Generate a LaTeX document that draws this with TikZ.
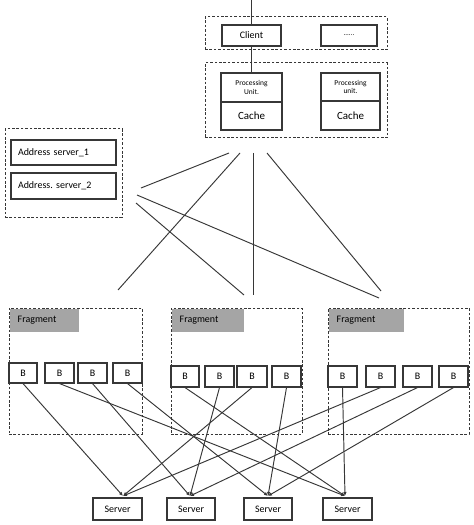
\documentclass[tikz,border=0pt]{standalone}
\usepackage{fontspec}
\setmainfont{Carlito}
\usetikzlibrary{arrows.meta,calc}
\definecolor{lin}{RGB}{55,55,55}
\definecolor{hdr}{RGB}{165,165,165}
\newcommand\bx[7][]{\node[box,minimum width={(#4-#2)*1bp},minimum height={(#5-#3)*1bp},#1] (#6) at ({(#2+#4)/2},{(#3+#5)/2}) {#7};}
\newcommand\dc[5]{\node[cont,minimum width={(#4-#2)*1bp},minimum height={(#5-#3)*1bp}] (#1) at ({(#2+#4)/2},{(#3+#5)/2}) {};}
\frenchspacing
\begin{document}
\begin{tikzpicture}[x=1bp,y=-1bp,
  box/.style={draw=lin, line width=1.1bp, inner sep=0pt, align=center, font=\fontsize{10}{11}\selectfont},
  cont/.style={draw=lin, dash pattern=on 2.6bp off 1.8bp, line width=1bp, inner sep=0pt},
  conn/.style={draw=lin, line width=0.95bp},
  arr/.style={conn, -{Latex[length=4bp,width=3.5bp]}},
  small/.style={font=\fontsize{7.5}{8.5}\selectfont},
  big/.style={font=\fontsize{11}{12}\selectfont},
  lefttext/.style={align=left, inner xsep=7bp, text width={(#1-14)*1bp}},
  hdrbox/.style={fill=hdr, draw=none, inner sep=0pt, align=left, font=\fontsize{10}{11}\selectfont},
]
\useasboundingbox (0,0) rectangle (474,525);
% top client area
\dc{c1}{205}{17}{387}{50}
\dc{c2}{205}{63}{387}{138}
\bx{222}{25}{281}{46}{client}{Client}
\bx{321}{25}{377}{46}{dots}{\fontsize{7}{8}\selectfont ......}
\bx[small]{221}{73}{282}{102}{pu1}{Processing\\Unit.}
\bx[big]{221}{102}{282}{130}{ca1}{Cache}
\bx[small]{321}{73}{380}{101}{pu2}{Processing\\unit.}
\bx[big]{321}{101}{380}{130}{ca2}{Cache}
\coordinate (top) at (251.5,0);
\draw[conn] (top) -- (client.north);
\draw[conn] (client.south) -- (pu1.north);
% address servers
\dc{c3}{5}{129}{122}{217}
\bx[lefttext=105]{11}{140}{116}{165}{ad1}{Address server\_1}
\bx[lefttext=105]{11}{173}{116}{199}{ad2}{Address. server\_2}
% free lines
\coordinate (p1a) at (141,188); \coordinate (p1b) at (229,153);
\coordinate (p2a) at (240,153); \coordinate (p2b) at (118,290);
\coordinate (p3a) at (253,153); \coordinate (p3b) at (253,295);
\coordinate (p4a) at (267,153); \coordinate (p4b) at (381,291);
\coordinate (p5a) at (137,195); \coordinate (p5b) at (379,298);
\coordinate (p6a) at (136,203); \coordinate (p6b) at (244,295);
\draw[conn] (p1a) -- (p1b);
\draw[conn] (p2a) -- (p2b);
\draw[conn] (p3a) -- (p3b);
\draw[conn] (p4a) -- (p4b);
\draw[conn] (p5a) -- (p5b);
\draw[conn] (p6a) -- (p6b);
% fragments
\dc{f1}{9}{308}{142}{434}
\dc{f2}{171}{308}{302}{434}
\dc{f3}{328}{308}{469}{434}
\node[hdrbox, anchor=north west, minimum width=69bp, minimum height=23bp, inner xsep=8bp, text width=53bp] (h1) at (9.5,308.5) {Fragment};
\node[hdrbox, anchor=north west, minimum width=72bp, minimum height=23bp, inner xsep=8bp, text width=56bp] (h2) at (171.5,308.5) {Fragment};
\node[hdrbox, anchor=north west, minimum width=75bp, minimum height=23bp, inner xsep=8bp, text width=59bp] (h3) at (328.5,308.5) {Fragment};
\bx{9}{363}{37}{383}{b11}{B}
\bx{45}{363}{74}{383}{b12}{B}
\bx{78}{363}{107}{383}{b13}{B}
\bx{113}{363}{142}{383}{b14}{B}
\bx{171}{366}{199}{387}{b21}{B}
\bx{205}{366}{234}{387}{b22}{B}
\bx{237}{366}{267}{387}{b23}{B}
\bx{272}{366}{301}{387}{b24}{B}
\bx{328}{366}{357}{387}{b31}{B}
\bx{366}{366}{395}{387}{b32}{B}
\bx{403}{366}{432}{387}{b33}{B}
\bx{439}{366}{468}{387}{b34}{B}
% servers
\bx{93}{498}{142}{520}{s1}{Server}
\bx{167}{498}{215}{520}{s2}{Server}
\bx{244}{498}{292}{520}{s3}{Server}
\bx{323}{498}{372}{520}{s4}{Server}
\coordinate (s1in) at (123,496);
\coordinate (s2in) at (190,496);
\coordinate (s3in) at (268,496);
\coordinate (s4in) at (345,496);
\draw[arr] (b11.south) -- (s1in);
\draw[arr] (b12.south) -- (s4in);
\draw[arr] (b13.south) -- (s2in);
\draw[arr] (b14.south) -- (s3in);
\draw[arr] (b21.south) -- (s4in);
\draw[arr] (b22.south) -- (s2in);
\draw[arr] (b23.south) -- (s1in);
\draw[arr] (b24.south) -- (s3in);
\draw[arr] (b31.south) -- (s4in);
\draw[arr] (b32.south) -- (s1in);
\draw[arr] (b33.south) -- (s2in);
\draw[arr] (b34.south) -- (s3in);
\end{tikzpicture}
\end{document}
